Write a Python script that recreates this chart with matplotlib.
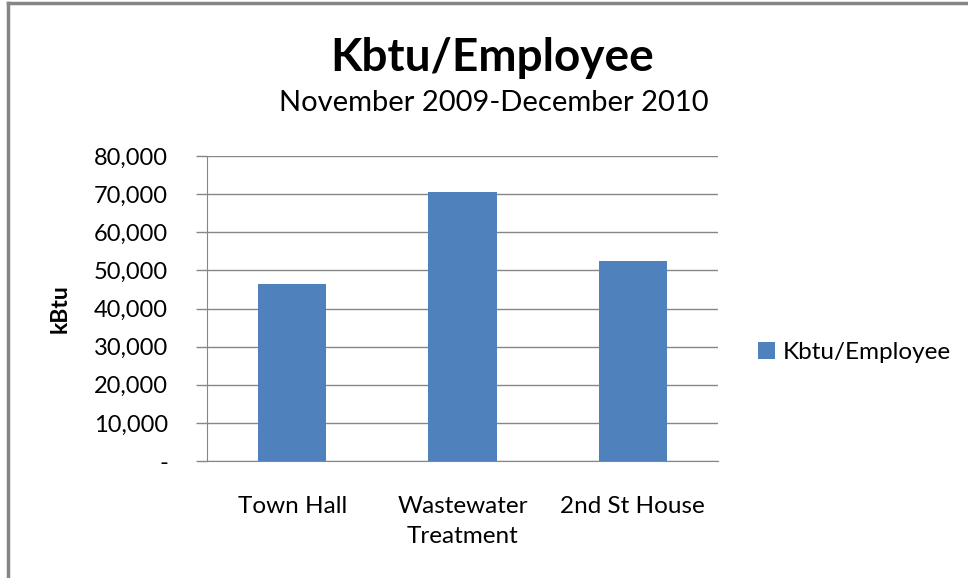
import matplotlib.pyplot as plt
from matplotlib.lines import Line2D
from matplotlib.ticker import FuncFormatter

categories = ['Town Hall', 'Wastewater\nTreatment', '2nd St House']
kbtu_per_employee = [46400, 70600, 52500]
y_ticks = [0, 10000, 20000, 30000, 40000, 50000, 60000, 70000, 80000]

plt.rcParams['font.family'] = ['Lato', 'DejaVu Sans']

fig = plt.figure(figsize=(9.68, 5.78), dpi=100)
ax = fig.add_axes([207 / 968, 1 - 461 / 578, 511 / 968, 305 / 578])

x = range(len(categories))
ax.bar(x, kbtu_per_employee, width=0.4, color='#4F81BD', label='Kbtu/Employee', zorder=3)

ax.set_xlim(-0.5, len(categories) - 0.5)
ax.set_ylim(0, 80000)
ax.set_yticks(y_ticks)
ax.yaxis.set_major_formatter(FuncFormatter(lambda v, p: '-' if v == 0 else f'{v:,.0f}'))
ax.set_xticks(list(x))
ax.set_xticklabels(categories, fontsize=17.5, linespacing=1.55)
ax.tick_params(axis='x', length=0, pad=25)
ax.tick_params(axis='y', length=8, color='#868686', width=1, labelsize=17, pad=20)

ax.grid(axis='y', color='#868686', linewidth=1, zorder=0)
for side in ['top', 'right']:
    ax.spines[side].set_visible(False)
ax.spines['left'].set_color('#868686')
ax.spines['bottom'].set_color('#868686')

ax.set_ylabel('kBtu', fontsize=16.5, fontweight='bold', labelpad=17)

fig.text(492 / 968, 1 - 58 / 578, 'Kbtu/Employee', fontsize=33, fontweight='bold',
         ha='center', va='center')
fig.text(494 / 968, 1 - 103 / 578, 'November 2009-December 2010', fontsize=21,
         ha='center', va='center')

ax.legend(loc='center left', bbox_to_anchor=(1.06, 0.355), frameon=False,
          fontsize=17.5, handlelength=0.7, handleheight=0.7, handletextpad=0.3,
          borderaxespad=0)

# chart border (only top and left are visible in the original)
fig.add_artist(Line2D([8 / 968, 8 / 968], [0, 1 - 3 / 578], color='#868686', linewidth=2.5))
fig.add_artist(Line2D([8 / 968, 1], [1 - 3 / 578, 1 - 3 / 578], color='#868686', linewidth=2.5))

fig.savefig('out.png', dpi=100)
